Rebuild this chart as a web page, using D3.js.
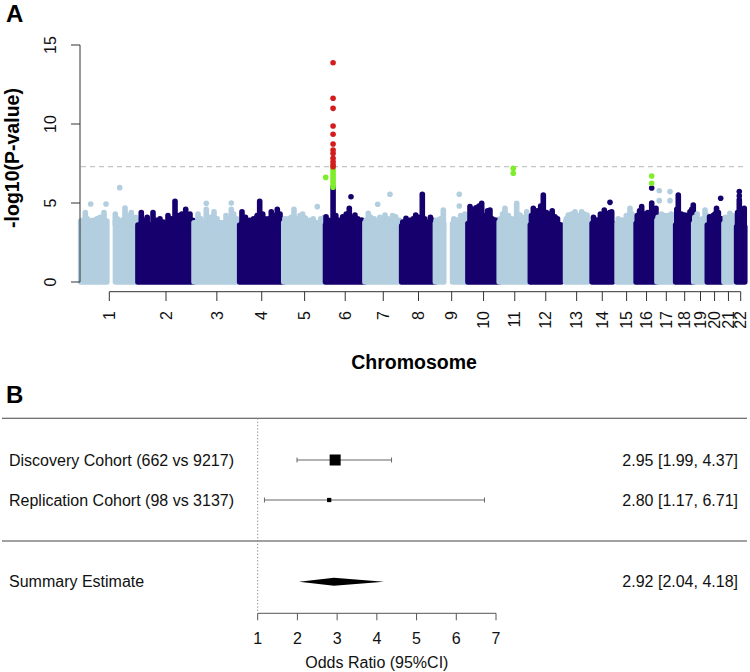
<!DOCTYPE html>
<html><head><meta charset="utf-8">
<script src="https://cdn.jsdelivr.net/npm/d3@7"></script>
<style>
html,body{margin:0;padding:0;background:#fff;}
svg{display:block;font-family:"Liberation Sans",Arial,Helvetica,sans-serif;}
</style></head>
<body><svg id="chart" width="750" height="672"></svg>
<script>
// ---------------- Panel A data (Manhattan) ----------------
const chromosomes = ["1","2","3","4","5","6","7","8","9","10","11","12","13","14","15","16","17","18","19","20","21","22"];
const chrFirstMb = [0.75,0.01,0.06,0.07,0.1,0.2,0.05,0.2,0.2,0.1,0.2,0.2,19.1,19.1,20.1,0.1,0.1,0.1,0.25,0.06,9.4,16.1];
const chrLastMb  = [249.25,243.2,198.02,191.15,180.92,171.12,159.14,146.36,141.21,135.53,135.01,133.85,115.17,107.35,102.53,90.35,81.2,78.08,59.13,63.03,48.13,51.3];
// height (-log10 p) reached by the dense mass of SNPs in each chromosome
const bulkLevel = [3.85,3.6,3.75,3.6,3.75,3.6,3.75,3.55,3.7,3.7,3.8,3.6,3.8,3.7,3.7,3.7,3.9,3.6,3.7,3.6,3.7,3.5];
// chromosome, start Mb, end Mb of gaps without SNPs
const snpGaps = [[1,123,143],[9,45,66]];
// stacks of SNPs rising above the mass: chromosome, Mb, top -log10 p
const stacks = [
 [1,10,3.9],[1,20.9,4.4],[1,30,4.0],[1,55,3.9],[1,71.6,4.0],[1,85,4.1],[1,102,4.4],[1,151,4.3],[1,160,4.0],[1,180,3.9],[1,193.1,4.68],[1,205,4.2],[1,220.4,4.4],[1,232,3.95],[1,240,4.1],
 [2,14.5,4.4],[2,25,3.9],[2,40,4.1],[2,65.3,4.4],[2,80,3.9],[2,95.6,4.0],[2,110,3.8],[2,130.3,4.2],[2,145,4.0],[2,160.7,5.1],[2,175,4.2],[2,190,4.3],[2,207.1,4.6],[2,215,4.0],[2,225.7,4.3],[2,238,3.9],
 [3,17.2,4.3],[3,30,4.0],[3,53.2,4.6],[3,70,4.1],[3,86.6,4.45],[3,100,4.0],[3,118.3,3.75],[3,138.7,4.2],[3,150,4.0],[3,161.7,4.6],[3,172,4.3],[3,185,4.0],
 [4,10,4.45],[4,25,4.1],[4,43.4,3.9],[4,60,4.0],[4,75,4.2],[4,86.8,5.1],[4,100,4.3],[4,109.8,4.0],[4,125,4.0],[4,137.1,4.45],[4,150,4.2],[4,163.1,4.6],[4,175,4.3],[4,185,3.9],
 [5,5,4.0],[5,20,4.0],[5,32,4.1],[5,44.4,4.6],[5,58,4.0],[5,70.4,4.2],[5,82,4.3],[5,93.5,4.05],[5,113.8,3.9],[5,128,4.0],[5,160,4.0],[5,175,4.1],
 [6,2.5,4.13],[6,15,3.9],[6,33,7.4],[6,45,4.2],[6,60,3.9],[6,74.7,4.13],[6,90,4.3],[6,103.3,4.66],[6,115,4.1],[6,128,4.24],[6,140,4.0],[6,157.1,3.92],[6,165,3.8],
 [7,5,3.9],[7,14.6,4.35],[7,25,4.1],[7,40,4.0],[7,65,4.1],[7,87,4.24],[7,100,4.0],[7,120,4.2],[7,133.4,4.13],[7,150,3.9],[7,155,3.8],
 [8,5,3.8],[8,19,4.03],[8,35,3.9],[8,50,4.0],[8,61.1,4.24],[8,75,4.1],[8,89.7,5.55],[8,100,4.0],[8,114.4,3.8],[8,125,4.1],[8,135,3.9],[8,143,3.8],
 [9,3,3.9],[9,11.4,3.92],[9,22,4.0],[9,34.4,4.56],[9,80,4.0],[9,92.5,3.92],[9,110,4.2],[9,119.8,4.13],[9,128,4.3],[9,135,4.0],[9,140,3.9],
 [10,9,4.77],[10,20,4.6],[10,35,4.7],[10,48,4.8],[10,59.7,4.98],[10,75,4.2],[10,85,4.5],[10,95.7,4.56],[10,105,4.0],[10,117.4,3.92],[10,130,3.9],
 [11,5,4.0],[11,15,4.3],[11,25.2,4.66],[11,40,4.2],[11,55,4.0],[11,76,4.98],[11,90.3,4.24],[11,100,4.1],[11,119.4,4.45],[11,130,4.0],
 [12,5,4.2],[12,13,4.66],[12,30,4.5],[12,45,4.8],[12,56.4,5.51],[12,70,4.4],[12,85.4,4.3],[12,95,4.5],[12,107.1,4.13],[12,118,4.0],[12,128.8,3.6],
 [13,22,4.0],[13,30.9,4.24],[13,45,4.3],[13,60,4.45],[13,75,4.2],[13,89,4.45],[13,100,4.3],[13,112,4.24],
 [14,25,4.1],[14,39,3.92],[14,55,4.3],[14,71.9,4.56],[14,85,4.2],[14,95,4.4],[14,104,4.45],
 [15,25,4.0],[15,41.3,3.92],[15,60,4.2],[15,76,4.66],[15,85,4.3],[15,95,4.0],[15,100,3.9],
 [16,5,4.2],[16,15,4.5],[16,24.2,4.77],[16,35,4.3],[16,50,4.4],[16,67.6,5.0],[16,75,4.3],[16,86.2,4.66],
 [17,5,4.1],[17,20,4.3],[17,35,4.2],[17,48,4.2],[17,62,4.3],[17,74,4.03],[17,80,4.0],
 [18,5,4.6],[18,11.4,5.51],[18,25,4.3],[18,40.4,4.24],[18,50,4.2],[18,62.1,4.45],[18,70,4.6],[18,76.4,4.87],
 [19,5,4.1],[19,15,4.3],[19,27.5,3.9],[19,38,4.0],[19,49.2,4.56],[19,58,4.2],
 [20,10,4.13],[20,25,4.2],[20,33,4.3],[20,40,4.66],[20,48,4.4],[20,55,3.9],[20,62,4.0],
 [21,15,4.1],[21,25,4.0],[21,35,4.35],[21,45,4.2],
 [22,20,4.4],[22,27.6,5.2],[22,38,4.3],[22,45,4.5],[22,49,4.66]
];
// individual SNPs standing out: chromosome, Mb, -log10 p
const topSnps = [
 [1,44.3,4.94],[1,110.7,4.94],[1,170.1,5.97],[3,53.2,4.98],[3,161.7,5.0],[5,145.5,4.77],
 [6,1.0,6.62],[6,110.7,5.4],
 [6,33,7.6],[6,33,7.83],[6,33,8.14],[6,33,8.35],[6,33,8.73],[6,33,9.35],[6,33,9.87],[6,33,10.99],[6,33,11.63],[6,33,13.88],
 [7,55.4,4.92],[7,108.7,5.55],[9,103.8,5.55],[9,103.8,4.81],[11,61.2,7.19],[11,61.2,6.88],
 [14,96.6,5.04],[16,67.6,5.95],[16,67.6,6.25],[16,67.6,6.71],
 [17,10.1,5.78],[17,10.1,5.15],[17,56.6,5.72],[17,56.6,5.15],[20,58,5.3],[22,27.6,5.72],[22,27.6,5.45]
];
const yTicksA = [0,5,10,15];
const genomeWideLine = 7.3;   // -log10(5e-8)
const suggestiveLevel = 6;

// ---------------- Panel B data (forest plot) ----------------
const studies = ["Discovery Cohort (662 vs 9217)","Replication Cohort (98 vs 3137)"];
const studyOR = [2.95,2.80];
const studyLower = [1.99,1.17];
const studyUpper = [4.37,6.71];
const studyWeight = [0.87,0.13];
const summaryLabel = "Summary Estimate";
const summaryOR = 2.92, summaryLower = 2.04, summaryUpper = 4.18;
const xTicksB = [1,2,3,4,5,6,7];

// ---------------- drawing ----------------
const svg = d3.select("#chart");
const light = "#b2cedf", dark = "#15006e", red = "#d41c1c", green = "#7ded2c";
const R = 2.8;

// cumulative genome positions (qqman style)
const offsets = [];
let acc = 0;
chrLastMb.forEach((L,i)=>{ offsets.push(acc); acc += L; });
const cum = (c,bp)=> offsets[c-1] + bp;
const tickPos = chromosomes.map((c,i)=> (cum(i+1,chrFirstMb[i]) + cum(i+1,chrLastMb[i]))/2);

const x = d3.scaleLinear().domain([tickPos[0], tickPos[21]]).range([109.3, 740.7]);
const y = d3.scaleLinear().domain([0,15]).range([282,45]);
const colorOf = (c,v)=> v > genomeWideLine ? red : (v > suggestiveLevel ? green : (c % 2 ? light : dark));

const gA = svg.append("g");
// dashed genome-wide threshold
gA.append("line").attr("x1",81).attr("x2",747).attr("y1",y(genomeWideLine)).attr("y2",y(genomeWideLine))
  .attr("stroke","#c4c4c4").attr("stroke-width",1.2).attr("stroke-dasharray","5,4");

chromosomes.forEach((name,i)=>{
  const c = i+1, col = c % 2 ? light : dark, g = gA.append("g");
  const gaps = snpGaps.filter(d=>d[0]===c);
  let parts = [];
  let start = [chrFirstMb[i], R];
  gaps.forEach(gp=>{ parts.push([start,[gp[1],0.8]]); start=[gp[2],0.8]; });
  parts.push([start,[chrLastMb[i],R]]);
  parts.forEach(p=>{
    const x0 = x(cum(c,p[0][0])) - p[0][1], x1 = x(cum(c,p[1][0])) + p[1][1];
    g.append("rect").attr("x",x0).attr("width",x1-x0)
      .attr("y",y(bulkLevel[i])-R).attr("height",y(0)-y(bulkLevel[i])+2*R)
      .attr("rx",R).attr("fill",col);
  });
  stacks.filter(d=>d[0]===c).forEach(d=>{
    const xx = x(cum(c,d[1]));
    const bands = [[0,Math.min(d[2],suggestiveLevel),col]];
    if (d[2] > suggestiveLevel) bands.push([suggestiveLevel, Math.min(d[2],genomeWideLine), green]);
    if (d[2] > genomeWideLine) bands.push([genomeWideLine, d[2], red]);
    bands.forEach(b=>{
      g.append("line").attr("x1",xx).attr("x2",xx).attr("y1",y(Math.max(b[0],bulkLevel[i]-0.2))).attr("y2",y(b[1]))
        .attr("stroke",b[2]).attr("stroke-width",2*R).attr("stroke-linecap","round");
    });
  });
});
gA.append("g").selectAll("circle").data(topSnps).join("circle")
  .attr("cx",d=>x(cum(d[0],d[1]))).attr("cy",d=>y(d[2])).attr("r",R)
  .attr("fill",d=>colorOf(d[0],d[2]));

// y axis
const yAx = gA.append("g");
yAx.append("line").attr("x1",80).attr("x2",80).attr("y1",y(0)).attr("y2",y(15)).attr("stroke","#333");
yTicksA.forEach(t=>{
  yAx.append("line").attr("x1",71).attr("x2",80).attr("y1",y(t)).attr("y2",y(t)).attr("stroke","#333");
  yAx.append("text").attr("transform",`translate(56,${y(t)}) rotate(-90)`).attr("text-anchor","middle")
    .attr("font-size",16).attr("fill","#111").text(t);
});
gA.append("text").attr("transform",`translate(19,158) rotate(-90)`).attr("text-anchor","middle")
  .attr("font-size",19.5).attr("font-weight","bold").text("-log10(P-value)");

// x axis
const xAx = gA.append("g");
xAx.append("line").attr("x1",x(tickPos[0])).attr("x2",x(tickPos[21])).attr("y1",291.7).attr("y2",291.7).attr("stroke","#333");
chromosomes.forEach((c,i)=>{
  const xx = x(tickPos[i]);
  xAx.append("line").attr("x1",xx).attr("x2",xx).attr("y1",291.7).attr("y2",301).attr("stroke","#333");
  xAx.append("text").attr("transform",`translate(${xx+5.7},311) rotate(-90)`).attr("text-anchor","end")
    .attr("font-size",16).attr("fill","#111").text(c);
});
gA.append("text").attr("x",414).attr("y",369).attr("text-anchor","middle")
  .attr("font-size",19.5).attr("font-weight","bold").text("Chromosome");

svg.append("text").attr("x",6).attr("y",22).attr("font-size",24).attr("font-weight","bold").text("A");
svg.append("text").attr("x",6).attr("y",403).attr("font-size",24).attr("font-weight","bold").text("B");

// ---------------- Panel B ----------------
const xb = d3.scaleLinear().domain([1,7]).range([257.7,496]);
const gB = svg.append("g").attr("font-size",16).attr("fill","#111");
const rowY = [460,500], sumY = 581.7, axisY = 613.3;
[418.3,541].forEach(yy=> gB.append("line").attr("x1",2).attr("x2",747).attr("y1",yy).attr("y2",yy).attr("stroke","#444").attr("stroke-width",1.1));
gB.append("line").attr("x1",xb(1)).attr("x2",xb(1)).attr("y1",418.3).attr("y2",axisY)
  .attr("stroke","#888").attr("stroke-dasharray","1.3,2");
studies.forEach((s,i)=>{
  const yy = rowY[i];
  gB.append("text").attr("x",9).attr("y",yy+5.7).text(s);
  gB.append("line").attr("x1",xb(studyLower[i])).attr("x2",xb(studyUpper[i])).attr("y1",yy).attr("y2",yy).attr("stroke","#666");
  [studyLower[i],studyUpper[i]].forEach(v=> gB.append("line").attr("x1",xb(v)).attr("x2",xb(v)).attr("y1",yy-2.5).attr("y2",yy+2.5).attr("stroke","#666"));
  const sz = 11*Math.sqrt(studyWeight[i]/studyWeight[0]);
  gB.append("rect").attr("x",xb(studyOR[i])-sz/2).attr("y",yy-sz/2).attr("width",sz).attr("height",sz).attr("fill","#000");
  gB.append("text").attr("x",738).attr("y",yy+5.7).attr("text-anchor","end")
    .text(`${studyOR[i].toFixed(2)} [${studyLower[i].toFixed(2)}, ${studyUpper[i].toFixed(2)}]`);
});
gB.append("text").attr("x",9).attr("y",sumY+5.7).text(summaryLabel);
gB.append("path").attr("d",`M${xb(summaryLower)},${sumY} L${xb(summaryOR)},${sumY-4} L${xb(summaryUpper)},${sumY} L${xb(summaryOR)},${sumY+4} Z`).attr("fill","#000");
gB.append("text").attr("x",738).attr("y",sumY+5.7).attr("text-anchor","end")
  .text(`${summaryOR.toFixed(2)} [${summaryLower.toFixed(2)}, ${summaryUpper.toFixed(2)}]`);
gB.append("line").attr("x1",xb(1)).attr("x2",xb(7)).attr("y1",axisY).attr("y2",axisY).attr("stroke","#555");
xTicksB.forEach(t=>{
  gB.append("line").attr("x1",xb(t)).attr("x2",xb(t)).attr("y1",axisY).attr("y2",axisY+7).attr("stroke","#555");
  gB.append("text").attr("x",xb(t)).attr("y",643.5).attr("text-anchor","middle").text(t);
});
gB.append("text").attr("x",xb(4)).attr("y",667.5).attr("text-anchor","middle").text("Odds Ratio (95%CI)");
</script></body></html>
